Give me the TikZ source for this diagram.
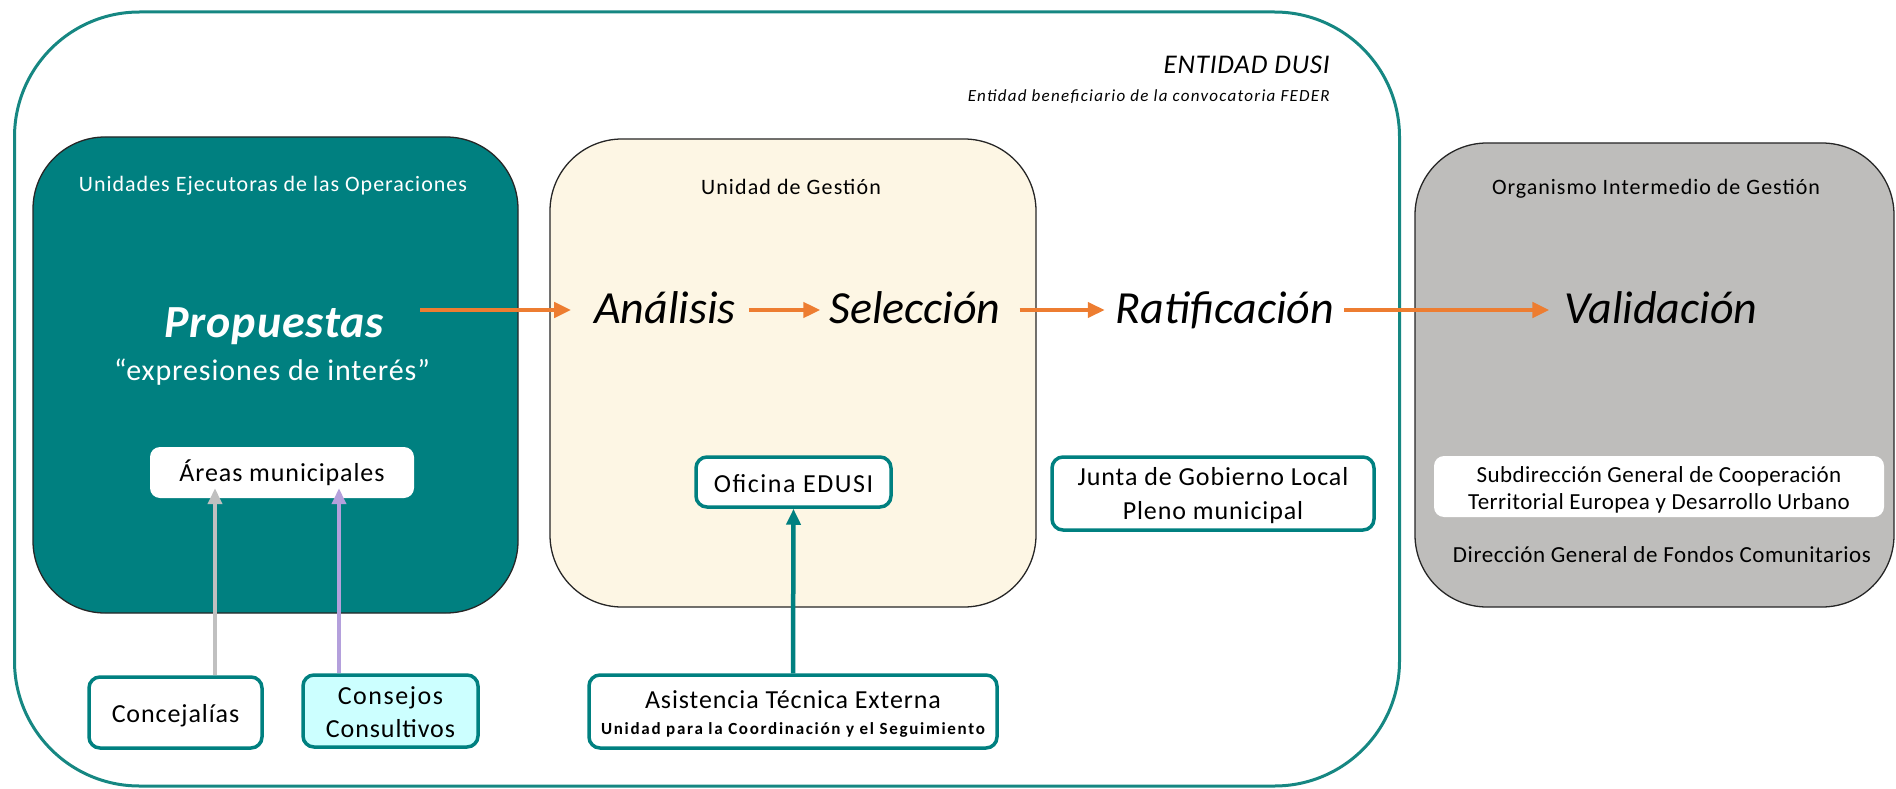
\documentclass[tikz,border=0pt]{standalone}
\usepackage{fontspec}
\setmainfont{Carlito}
\usetikzlibrary{arrows.meta}
\definecolor{tealc}{RGB}{0,128,128}
\definecolor{outerc}{RGB}{22,135,130}
\definecolor{creamc}{RGB}{253,246,228}
\definecolor{grayc}{RGB}{190,189,187}
\definecolor{orangec}{RGB}{237,125,49}
\definecolor{lgrayc}{RGB}{192,192,192}
\definecolor{purpc}{RGB}{180,160,220}
\definecolor{lcyanc}{RGB}{204,255,255}
\newcommand{\fsz}[2]{\fontsize{#1}{#2}\selectfont}
\newcommand{\lsp}[1]{\addfontfeatures{LetterSpace=#1}}
\begin{document}
\begin{tikzpicture}[x=1pt,y=-1pt,
  outerbox/.style={draw=outerc, line width=3pt, rounded corners=125pt, inner sep=0pt},
  bigbox/.style={draw=black!85, line width=1.3pt, rounded corners=72pt, inner sep=0pt},
  tbox/.style={draw=tealc, line width=3.5pt, rounded corners=11pt, fill=white, inner sep=0pt},
  wbox/.style={fill=white, rounded corners=10pt, inner sep=0pt},
  lbl/.style={inner sep=0pt, anchor=base},
  boxtxt/.style={inner sep=0pt, anchor=base, font=\fsz{26}{30}\lsp{3.5}},
  flowtxt/.style={inner sep=0pt, anchor=base, font=\fsz{46}{50}\itshape},
  flow/.style={draw=orangec, line width=4.5pt, -{Triangle[length=17pt,width=15pt]}},
  uparrow/.style={line width=4.5pt, -{Triangle[length=16pt,width=14pt]}}
]
\useasboundingbox (0,0) rectangle (1896,789);

% containers
\node[outerbox, minimum width=1385, minimum height=774] (outer) at (707,399) {};
\node[bigbox, fill=tealc, minimum width=485, minimum height=476] (ueo) at (275.5,375) {};
\node[bigbox, fill=creamc, minimum width=486, minimum height=468] (ug) at (793,373) {};
\node[bigbox, fill=grayc, minimum width=479, minimum height=464] (oig) at (1654.5,375) {};

% entidad title
\node[inner sep=0pt, anchor=base east, font=\fsz{27}{30}\itshape\lsp{3}] (tent) at (1330,74) {ENTIDAD DUSI};
\node[inner sep=0pt, anchor=base east, font=\fsz{17}{20}\itshape\lsp{7.5}] (tent2) at (1330,102) {Entidad beneficiario de la convocatoria FEDER};

% teal box content
\node[lbl, text=white, font=\fsz{22}{26}\lsp{4.5}] (tueo) at (273,191) {Unidades Ejecutoras de las Operaciones};
\node[flowtxt, text=white, font=\fsz{46}{50}\bfseries\itshape\lsp{2}] (prop) at (274,337) {Propuestas};
\node[lbl, text=white, font=\fsz{30}{34}\lsp{3}] (expr) at (272,380) {“expresiones de interés”};
\node[wbox, minimum width=264, minimum height=51] (areas) at (282,472.5) {};
\node[boxtxt] (tareas) at (282,481) {Áreas municipales};

% cream box content
\node[lbl, font=\fsz{22}{26}\lsp{5}] (tug) at (791,194) {Unidad de Gestión};
\node[flowtxt] (ana) at (665,323) {Análisis};
\node[flowtxt] (sel) at (915,323) {Selección};
\node[tbox, minimum width=195, minimum height=50] (ofi) at (793.5,482) {};
\node[boxtxt, font=\fsz{26}{30}\lsp{6}] (tofi) at (793.5,492) {Oficina EDUSI};

% ratificacion
\node[flowtxt] (rat) at (1225,323) {Ratificación};
\node[tbox, minimum width=322, minimum height=73] (junta) at (1213,493.5) {};
\node[boxtxt] (tjun1) at (1213,485) {Junta de Gobierno Local};
\node[boxtxt] (tjun2) at (1213,519) {Pleno municipal};

% gray box content
\node[lbl, font=\fsz{22}{26}\lsp{4.5}] (toig) at (1656,194) {Organismo Intermedio de Gestión};
\node[flowtxt] (val) at (1661,323) {Validación};
\node[wbox, minimum width=450, minimum height=61] (subd) at (1659,486.5) {};
\node[lbl, font=\fsz{23}{27}\lsp{2}] (tsub1) at (1659,482) {Subdirección General de Cooperación};
\node[lbl, font=\fsz{23}{27}\lsp{2}] (tsub2) at (1659,509) {Territorial Europea y Desarrollo Urbano};
\node[lbl, font=\fsz{23}{27}\lsp{2.5}] (tdir) at (1662,562) {Dirección General de Fondos Comunitarios};

% bottom boxes
\node[tbox, minimum width=173, minimum height=71] (conc) at (175.5,712.5) {};
\node[boxtxt] (tconc) at (175.5,722) {Concejalías};
\node[tbox, fill=lcyanc, minimum width=175, minimum height=72] (cons) at (390.5,711) {};
\node[boxtxt, font=\fsz{26}{30}\lsp{6}] (tcons1) at (390.5,704) {Consejos};
\node[boxtxt] (tcons2) at (390.5,737) {Consultivos};
\node[tbox, minimum width=408, minimum height=73] (asis) at (793,711.5) {};
\node[boxtxt] (tasis1) at (793,708) {Asistencia Técnica Externa};
\node[lbl, font=\fsz{17}{20}\bfseries\lsp{10}] (tasis2) at (793,734) {Unidad para la Coordinación y el Seguimiento};

% flow arrows
\coordinate (fy) at (0,310);
\draw[flow] (prop.east |- fy) ++(36,0) -- ([xshift=-23pt]ana.west |- fy);
\draw[flow] ([xshift=13pt]ana.east |- fy) -- ([xshift=-9pt]sel.west |- fy);
\draw[flow] ([xshift=19pt]sel.east |- fy) -- ([xshift=-11pt]rat.west |- fy);
\draw[flow] ([xshift=10pt]rat.east |- fy) -- ([xshift=-15pt]val.west |- fy);

% vertical arrows
\coordinate (gx) at (215,0);
\coordinate (px) at (339,0);
\draw[uparrow, draw=lgrayc] (gx |- conc.north) -- ([yshift=10pt]gx |- areas.south);
\draw[uparrow, draw=purpc] (px |- cons.north) -- ([yshift=10pt]px |- areas.south);
\draw[uparrow, draw=tealc] (asis.north) -- (ofi.south);
\end{tikzpicture}
\end{document}
